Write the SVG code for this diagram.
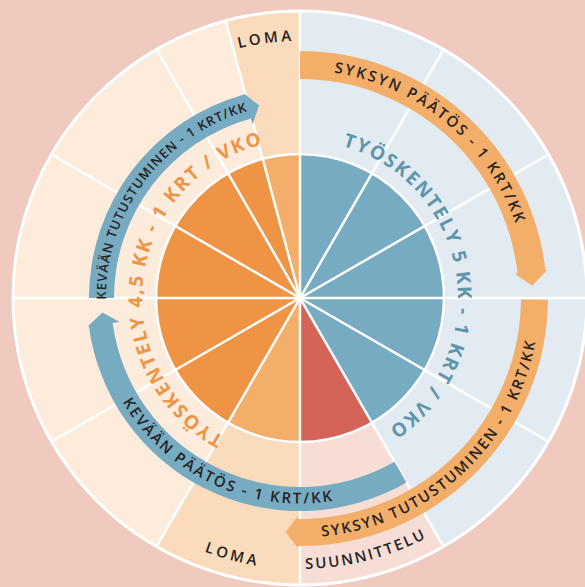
<svg xmlns="http://www.w3.org/2000/svg" width="585" height="587" viewBox="0 0 585 587">
<style>
.spk{stroke:#fff;stroke-width:2.5;fill:none}
.big{font-family:"Open Sans","DejaVu Sans",sans-serif;font-weight:700;font-size:19px;letter-spacing:1.9px}
.band{font-family:"Open Sans","DejaVu Sans",sans-serif;font-weight:600;fill:#252223}
.lbl{font-family:"Open Sans","DejaVu Sans",sans-serif;font-weight:600;font-size:15px;fill:#252223}
</style>
<defs>
<path id="t1" d="M300,70 A228,228 0 0 1 524.54,258.41"/>
<path id="t2" d="M300,537.5 A239.5,239.5 0 0 0 538.59,318.87"/>
<path id="t3" d="M106.89,368.29 A205.5,205.5 0 0 0 370.29,491.11"/>
<path id="t4" d="M107.89,325 A194,194 0 0 1 273,105.89"/>
<path id="t5" d="M300,140 A158,158 0 0 1 348.82,448.27"/>
<path id="t6" d="M245.96,446.47 A158,158 0 0 1 287.88,140.47"/>
<path id="t7" d="M181.33,70.04 A257,257 0 0 1 355.62,47.09"/>
<path id="t8" d="M145.73,520.8 A271,271 0 0 0 325.03,567.84"/>
<path id="t9" d="M274.5,567.8 A271,271 0 0 0 453.89,521.07"/>
</defs>
<rect width="585" height="587" fill="#F0CABF"/>
<g id="outer-ring">
<circle cx="300" cy="298" r="287" fill="#FDECDB"/>
<path id="ring-autumn" d="M300,298 L300,11 A287,287 0 0 1 443.5,546.55 Z" fill="#E2EBF1"/>
<path id="ring-suunnittelu" d="M300,298 L443.5,546.55 A287,287 0 0 1 300,585 Z" fill="#F6DED6"/>
<path id="ring-loma-bottom" d="M300,298 L300,585 A287,287 0 0 1 156.5,546.55 Z" fill="#FADBBC"/>
<path id="ring-loma-top" d="M300,298 L225.72,20.78 A287,287 0 0 1 300,11 Z" fill="#FADBBC"/>
</g>
<g id="pie">
<path d="M300,298 L300,154 A144,144 0 0 1 372,422.71 Z" fill="#76ABC1"/>
<path d="M300,298 L372,422.71 A144,144 0 0 1 300,442 Z" fill="#D46358"/>
<path d="M300,298 L300,442 A144,144 0 0 1 228,422.71 Z" fill="#F3AE69"/>
<path d="M300,298 L228,422.71 A144,144 0 0 1 262.73,158.91 Z" fill="#EF9345"/>
<path d="M300,298 L262.73,158.91 A144,144 0 0 1 300,154 Z" fill="#F3AE69"/>
</g>
<g id="spokes" class="spk">
<line x1="13" y1="298" x2="587" y2="298"/>
<line x1="300" y1="11" x2="300" y2="585"/>
<line x1="300" y1="298" x2="443.5" y2="49.45"/>
<line x1="300" y1="298" x2="548.55" y2="154.5"/>
<line x1="300" y1="298" x2="548.55" y2="441.5"/>
<line x1="300" y1="298" x2="443.5" y2="546.55"/>
<line x1="300" y1="298" x2="156.5" y2="546.55"/>
<line x1="300" y1="298" x2="51.45" y2="441.5"/>
<line x1="300" y1="298" x2="51.45" y2="154.5"/>
<line x1="300" y1="298" x2="156.5" y2="49.45"/>
<line x1="300" y1="298" x2="225.72" y2="20.78"/>
<circle cx="300" cy="298" r="144"/>
<circle cx="300" cy="298" r="287" stroke-width="3"/>
</g>
<g id="connectors">
<path id="arrow-syksyn-paatos" d="M300,51 A247,247 0 0 1 545.41,270.04 L547.4,269.81 L532.18,285.83 L514.61,273.55 L517.59,273.21 A219,219 0 0 0 300,79 Z" fill="#F3AE69"/>
<path id="arrow-syksyn-tutustuminen" d="M547.99,299.73 A248,248 0 0 1 297.84,545.99 L297.82,547.99 L285.68,532.06 L298.1,515.99 L298.07,518.99 A221,221 0 0 0 520.99,299.54 Z" fill="#F3AE69"/>
<path id="arrow-kevaan-paatos" d="M406.5,482.46 A213,213 0 0 1 88.87,326.17 L87.88,326.3 L102.53,312.5 L119.6,322.07 L112.66,323 A189,189 0 0 0 394.5,461.68 Z" fill="#76ABC1"/>
<path id="arrow-kevaan-tutustuminen" d="M89,298 A211,211 0 0 1 244.32,94.48 L244.06,93.51 L259.04,105.31 L252.5,124.38 L250.92,118.59 A186,186 0 0 0 114,298 Z" fill="#76ABC1"/>
</g>
<g id="arrow-labels">
<text class="band" font-size="15" letter-spacing="2.3"><textPath href="#t1" startOffset="50%" text-anchor="middle">SYKSYN PÄÄTÖS - 1 KRT/KK</textPath></text>
<text class="band" font-size="15" letter-spacing="1.9"><textPath href="#t2" startOffset="50%" text-anchor="middle">SYKSYN TUTUSTUMINEN - 1 KRT/KK</textPath></text>
<text class="band" font-size="15" letter-spacing="2.1"><textPath href="#t3" startOffset="50%" text-anchor="middle">KEVÄÄN PÄÄTÖS - 1 KRT/KK</textPath></text>
<text class="band" font-size="13" letter-spacing="1"><textPath href="#t4" startOffset="50%" text-anchor="middle">KEVÄÄN TUTUSTUMINEN - 1 KRT/KK</textPath></text>
</g>
<g id="work-labels">
<text class="big" fill="#5E95AC"><textPath href="#t5" startOffset="50%" text-anchor="middle">TYÖSKENTELY 5 KK - 1 KRT / VKO</textPath></text>
<text class="big" fill="#EF9345"><textPath href="#t6" startOffset="50%" text-anchor="middle">TYÖSKENTELY 4,5 KK - 1 KRT / VKO</textPath></text>
</g>
<g id="sector-labels">
<text class="lbl" letter-spacing="3.2"><textPath href="#t7" startOffset="50%" text-anchor="middle">LOMA</textPath></text>
<text class="lbl" letter-spacing="3.2"><textPath href="#t8" startOffset="50%" text-anchor="middle">LOMA</textPath></text>
<text class="lbl" letter-spacing="2.2"><textPath href="#t9" startOffset="50%" text-anchor="middle">SUUNNITTELU</textPath></text>
</g>
</svg>
